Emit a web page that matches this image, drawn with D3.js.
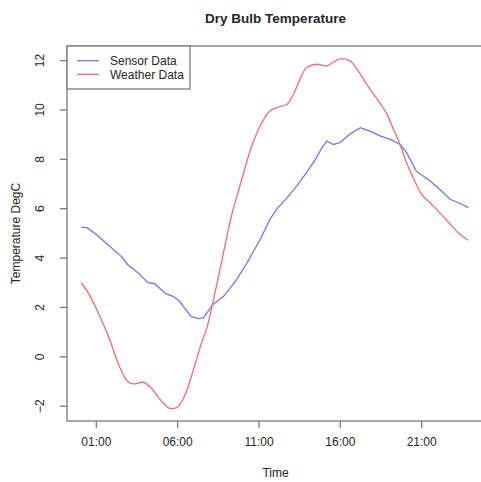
<!DOCTYPE html>
<html>
<head>
<meta charset="utf-8">
<script src="https://cdn.jsdelivr.net/npm/d3@7"></script>
<style>
  html, body { margin: 0; padding: 0; background: #fff; }
  svg { display: block; font-family: "Liberation Sans", Arial, sans-serif; }
</style>
</head>
<body>
<svg id="chart" width="481" height="482"></svg>
<script>
// Hour of day for each reading
const sensorHours = [0.1, 0.5, 1.2, 1.85, 2.45, 2.65, 2.95, 3.6, 4.2, 4.6, 5.3, 5.75, 6.15, 6.45, 6.85, 7.3, 7.6,
  7.8, 8.2, 8.85, 9.35, 9.65, 10.3, 11.1, 11.7, 12.1, 12.75, 13.35, 13.95, 14.5, 14.9, 15.2, 15.6, 16.0, 16.6,
  17.25, 17.85, 18.5, 19.1, 19.7, 20.1, 20.7, 21.55, 22.15, 22.8, 23.4, 23.9];
const sensorTemp = [5.23, 5.2, 4.84, 4.46, 4.12, 3.99, 3.72, 3.38, 2.98, 2.95, 2.54, 2.43, 2.23, 1.96, 1.62, 1.53, 1.56,
  1.74, 2.1, 2.43, 2.84, 3.11, 3.79, 4.73, 5.54, 5.95, 6.42, 6.89, 7.44, 7.98, 8.45, 8.72, 8.58, 8.65, 8.99,
  9.26, 9.12, 8.92, 8.79, 8.58, 8.25, 7.5, 7.1, 6.76, 6.35, 6.19, 6.02];

const weatherHours = [0.1, 0.6, 1.2, 1.85, 2.45, 2.95, 3.3, 3.9, 4.4, 5.05, 5.6, 5.95, 6.45, 7.0, 7.5, 7.85, 8.15,
  8.85, 9.25, 9.9, 10.5, 11.1, 11.7, 12.1, 12.75, 13.15, 13.55, 13.95, 14.6, 15.2, 15.4, 16.1, 16.65, 17.05,
  17.65, 18.3, 18.9, 19.3, 19.7, 20.1, 20.55, 20.95, 21.55, 22.15, 22.8, 23.4, 23.9];
const weatherTemp = [2.98, 2.5, 1.69, 0.68, -0.41, -1.01, -1.12, -1.05, -1.28, -1.82, -2.12, -2.09, -1.62, -0.55, 0.55, 1.2, 2.05,
  4.2, 5.45, 7.0, 8.35, 9.33, 9.94, 10.07, 10.21, 10.61, 11.22, 11.7, 11.83, 11.76, 11.83, 12.06, 11.96, 11.63,
  11.02, 10.41, 9.8, 9.19, 8.58, 7.84, 7.17, 6.63, 6.22, 5.81, 5.34, 4.93, 4.70];

const xTickHours = [1, 6, 11, 16, 21];
const xTickLabels = ["01:00", "06:00", "11:00", "16:00", "21:00"];
const yTicks = [-2, 0, 2, 4, 6, 8, 10, 12];

const seriesNames = ["Sensor Data", "Weather Data"];
const seriesColors = ["#7474ee", "#ee6e6e"];

const svg = d3.select("#chart");
const plot = { left: 67, right: 484, top: 46, bottom: 421 };

const x = d3.scaleLinear().domain([-0.77, 24.86]).range([plot.left, plot.right]);
const y = d3.scaleLinear().domain([-2.62, 12.57]).range([plot.bottom, plot.top]);

const axisColor = "#7a7a7a";
const textColor = "#262626";
const fontFamily = "'Liberation Sans', Arial, sans-serif";

// Title
svg.append("text")
  .attr("x", (plot.left + plot.right) / 2).attr("y", 23)
  .attr("text-anchor", "middle")
  .attr("font-size", 13.5).attr("font-weight", "bold").attr("fill", textColor)
  .text("Dry Bulb Temperature");

// Lines
const lineSmooth = d3.line().x(d => x(d[0])).y(d => y(d[1])).curve(d3.curveMonotoneX);
const lineRaw = d3.line().x(d => x(d[0])).y(d => y(d[1]));

svg.append("path")
  .datum(d3.zip(sensorHours, sensorTemp))
  .attr("d", lineRaw)
  .attr("fill", "none").attr("stroke", seriesColors[0]).attr("stroke-width", 1.3);

svg.append("path")
  .datum(d3.zip(weatherHours, weatherTemp))
  .attr("d", lineSmooth)
  .attr("fill", "none").attr("stroke", seriesColors[1]).attr("stroke-width", 1.3);

// Plot frame
svg.append("rect")
  .attr("x", plot.left).attr("y", plot.top)
  .attr("width", plot.right - plot.left).attr("height", plot.bottom - plot.top)
  .attr("fill", "none").attr("stroke", axisColor).attr("stroke-width", 1.3);

// X axis
const xAxis = d3.axisBottom(x)
  .tickValues(xTickHours)
  .tickFormat((d, i) => xTickLabels[i])
  .tickSize(7).tickPadding(9);
const gx = svg.append("g").attr("transform", `translate(0,${plot.bottom})`).call(xAxis);
gx.select(".domain").remove();
gx.selectAll(".tick line").attr("stroke", axisColor).attr("stroke-width", 1.3);
gx.selectAll(".tick text").attr("font-size", 12).attr("fill", textColor)
  .attr("font-family", fontFamily);

// Y axis with rotated labels
const yAxis = d3.axisLeft(y).tickValues(yTicks).tickSize(7).tickFormat(d3.format("d"));
const gy = svg.append("g").attr("transform", `translate(${plot.left},0)`).call(yAxis);
gy.select(".domain").remove();
gy.selectAll(".tick line").attr("stroke", axisColor).attr("stroke-width", 1.3);
gy.selectAll(".tick text")
  .attr("x", 0).attr("dy", 0)
  .attr("transform", "translate(-23,0) rotate(-90)")
  .attr("text-anchor", "middle")
  .attr("font-size", 12).attr("fill", textColor)
  .attr("font-family", fontFamily);

// Axis titles
svg.append("text")
  .attr("x", (plot.left + plot.right) / 2).attr("y", 477)
  .attr("text-anchor", "middle").attr("font-size", 12).attr("fill", textColor)
  .text("Time");
svg.append("text")
  .attr("transform", `translate(20,${(plot.top + plot.bottom) / 2}) rotate(-90)`)
  .attr("text-anchor", "middle").attr("font-size", 12).attr("fill", textColor)
  .text("Temperature DegC");

// Legend
const legend = svg.append("g");
legend.append("rect")
  .attr("x", plot.left).attr("y", plot.top)
  .attr("width", 123).attr("height", 43)
  .attr("fill", "#fff").attr("stroke", axisColor).attr("stroke-width", 1.3);
seriesNames.forEach((name, i) => {
  const cy = 60.7 + i * 13.6;
  legend.append("line")
    .attr("x1", 77).attr("x2", 99).attr("y1", cy).attr("y2", cy)
    .attr("stroke", seriesColors[i]).attr("stroke-width", 1.3);
  legend.append("text")
    .attr("x", 110).attr("y", cy + 4.3)
    .attr("font-size", 12).attr("fill", textColor)
    .text(name);
});
</script>
</body>
</html>
